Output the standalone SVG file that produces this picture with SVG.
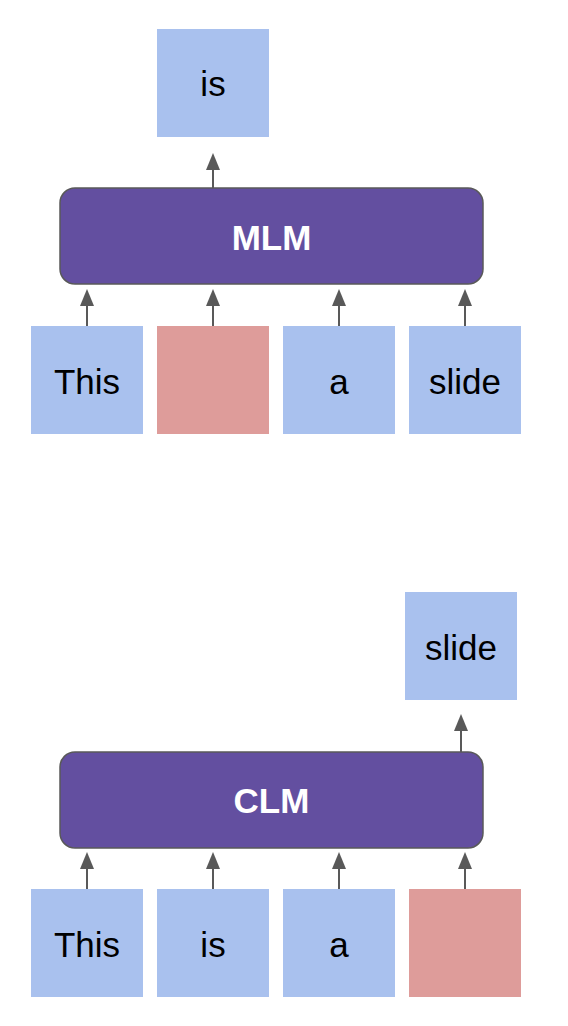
<svg xmlns="http://www.w3.org/2000/svg" width="568" height="1026" viewBox="0 0 568 1026">
<style>
.tok{fill:#a9c1ee}
.mask{fill:#de9c9a}
.model{fill:#634fa0;stroke:#595959;stroke-width:1.5}
.t{font-family:"Liberation Sans",Arial,sans-serif;font-size:35px;fill:#000;text-anchor:middle}
.mt{font-family:"Liberation Sans",Arial,sans-serif;font-size:35px;font-weight:bold;fill:#fff;text-anchor:middle}
.arr{stroke:#595959;stroke-width:2;fill:none;marker-end:url(#ah)}
</style>
<defs>
<marker id="ah" markerUnits="userSpaceOnUse" viewBox="0 0 17 14" markerWidth="17" markerHeight="14" refX="0" refY="7" orient="auto">
<path d="M0,0 L17,7 L0,14 Z" fill="#595959"/>
</marker>
</defs>
<g id="connectors">
<line class="arr" x1="213" y1="188" x2="213" y2="170"/>
<line class="arr" x1="87" y1="326" x2="87" y2="306"/>
<line class="arr" x1="213" y1="326" x2="213" y2="306"/>
<line class="arr" x1="339" y1="326" x2="339" y2="306"/>
<line class="arr" x1="465" y1="326" x2="465" y2="306"/>
<line class="arr" x1="461" y1="752" x2="461" y2="731"/>
<line class="arr" x1="87" y1="889" x2="87" y2="869"/>
<line class="arr" x1="213" y1="889" x2="213" y2="869"/>
<line class="arr" x1="339" y1="889" x2="339" y2="869"/>
<line class="arr" x1="465" y1="889" x2="465" y2="869"/>
</g>
<g id="out_is"><rect class="tok" x="157" y="29" width="112" height="108"/><text class="t" x="213" y="96">is</text></g>
<g id="mlm"><rect class="model" x="60" y="188" width="423" height="96" rx="15"/><text class="mt" x="271.5" y="250">MLM</text></g>
<g id="m_this"><rect class="tok" x="31" y="326" width="112" height="108"/><text class="t" x="87" y="394">This</text></g>
<g id="m_mask"><rect class="mask" x="157" y="326" width="112" height="108"/></g>
<g id="m_a"><rect class="tok" x="283" y="326" width="112" height="108"/><text class="t" x="339" y="394">a</text></g>
<g id="m_slide"><rect class="tok" x="409" y="326" width="112" height="108"/><text class="t" x="465" y="394">slide</text></g>
<g id="out_slide"><rect class="tok" x="405" y="592" width="112" height="108"/><text class="t" x="461" y="660">slide</text></g>
<g id="clm"><rect class="model" x="60" y="752" width="423" height="96" rx="15"/><text class="mt" x="271.5" y="813">CLM</text></g>
<g id="c_this"><rect class="tok" x="31" y="889" width="112" height="108"/><text class="t" x="87" y="957">This</text></g>
<g id="c_is"><rect class="tok" x="157" y="889" width="112" height="108"/><text class="t" x="213" y="957">is</text></g>
<g id="c_a"><rect class="tok" x="283" y="889" width="112" height="108"/><text class="t" x="339" y="957">a</text></g>
<g id="c_mask"><rect class="mask" x="409" y="889" width="112" height="108"/></g>
</svg>
